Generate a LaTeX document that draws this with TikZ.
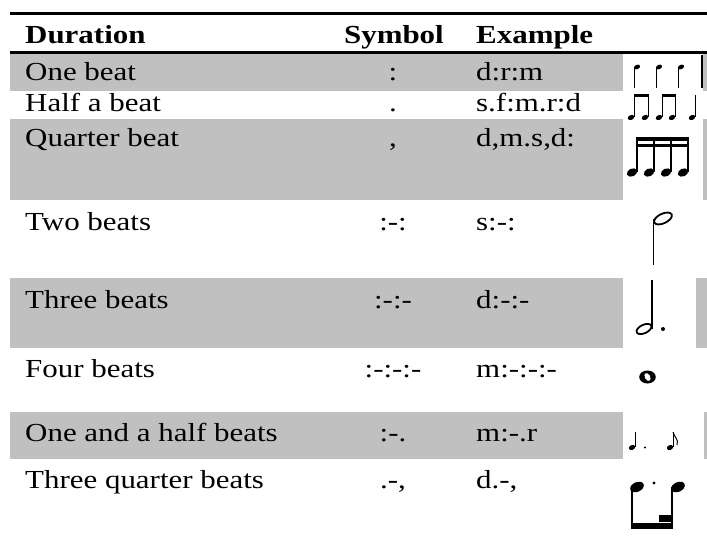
\documentclass[tikz,border=0pt]{standalone}
\usepackage{fontspec}
\setmainfont{Liberation Serif}[FakeStretch=1.19]
\definecolor{rowgray}{RGB}{192,192,192}
\begin{document}
\begin{tikzpicture}[x=1pt,y=-1pt,
  txt/.style={inner sep=0pt, font=\fontsize{26}{30}\selectfont},
  hdtxt/.style={inner sep=0pt, font=\fontsize{26}{30}\selectfont\bfseries},
  durtxt/.style={txt, anchor=base west},
  symtxt/.style={txt, anchor=base},
  extxt/.style={txt, anchor=base west},
  graybar/.style={fill=rowgray},
  notecell/.style={fill=white},
  rulethick/.style={line width=3pt},
  rulemid/.style={line width=2.5pt},
  thinstem/.style={line width=1pt},
  midstem/.style={line width=1.5pt},
  thickstem/.style={line width=2pt}
]
\useasboundingbox (0,0) rectangle (707,544);
\fill[white] (0,0) rectangle (707,544);

% shaded rows
\fill[graybar] (10,54) rectangle (707,91);
\fill[graybar] (10,119) rectangle (707,200);
\fill[graybar] (10,278) rectangle (707,348);
\fill[graybar] (10,412) rectangle (707,459);
% white note cells
\fill[notecell] (623,54) rectangle (703,91);
\fill[notecell] (623,119) rectangle (703,200);
\fill[notecell] (623,278) rectangle (696,348);
\fill[notecell] (623,412) rectangle (704,459);

% rules
\draw[rulethick] (10,13.5) -- (707,13.5);
\draw[rulemid] (10,52.5) -- (707,52.5);

% header
\node[hdtxt, anchor=base west] (hdur) at (25,43) {Duration};
\node[hdtxt, anchor=base east] (hsym) at (444,43) {Symbol};
\node[hdtxt, anchor=base west] (hex) at (476,43) {Example};

% rows
\node[durtxt] (d1) at (25,80) {One beat};
\node[symtxt] (s1) at (393,80) {:};
\node[extxt] (e1) at (476,80) {d:r:m};

\node[durtxt] (d2) at (25,111) {Half a beat};
\node[symtxt] (s2) at (393,111) {.};
\node[extxt] (e2) at (476,111) {s.f:m.r:d};

\node[durtxt] (d3) at (25,146) {Quarter beat};
\node[symtxt] (s3) at (393,146) {,};
\node[extxt] (e3) at (476,146) {d,m.s,d:};

\node[durtxt] (d4) at (25,230) {Two beats};
\node[symtxt] (s4) at (393,230) {:-:};
\node[extxt] (e4) at (476,230) {s:-:};

\node[durtxt] (d5) at (25,308) {Three beats};
\node[symtxt] (s5) at (393,308) {:-:-};
\node[extxt] (e5) at (476,308) {d:-:-};

\node[durtxt] (d6) at (25,377) {Four beats};
\node[symtxt] (s6) at (393,377) {:-:-:-};
\node[extxt] (e6) at (476,377) {m:-:-:-};

\node[durtxt] (d7) at (25,441) {One and a half beats};
\node[symtxt] (s7) at (393,441) {:-.};
\node[extxt] (e7) at (476,441) {m:-.r};

\node[durtxt] (d8) at (25,488) {Three quarter beats};
\node[symtxt] (s8) at (393,488) {.-,};
\node[extxt] (e8) at (476,488) {d.-,};

% row 1: three quarter notes, stems down
\foreach \x in {634,656,678}{
  \fill[rotate around={25:(\x+3,67)}] (\x+3,67) ellipse [x radius=3.2pt, y radius=2.2pt];
  \draw[thinstem] (\x+0.5,67) -- (\x+0.5,88);
}
\draw[line width=1.2pt] (702,55) -- (702,88);

% row 2: two beamed pairs of eighths and a quarter
\fill (633.5,94) rectangle (648.5,96.5);
\fill (661.5,94) rectangle (675.5,96.5);
\foreach \x in {634,648,662,675,695}{
  \draw[thinstem] (\x,95) -- (\x,117);
  \fill[rotate around={25:(\x-3,117.5)}] (\x-3,117.5) ellipse [x radius=3.4pt, y radius=2.4pt];
}

% row 3: four beamed sixteenths
\fill (636.25,137) rectangle (688.75,140.5);
\fill (636.25,143.5) rectangle (688.75,147);
\foreach \x in {637,654,671,688}{
  \draw[midstem] (\x,137) -- (\x,172);
  \fill[rotate around={25:(\x-5,172.5)}] (\x-5,172.5) ellipse [x radius=5.4pt, y radius=3.9pt];
}

% row 4: half note, stem down
\draw[midstem] (653.5,219) -- (653.5,265);
\draw[line width=1.8pt, rotate around={25:(663,218.5)}] (663,218.5) ellipse [x radius=9.6pt, y radius=4.8pt];

% row 5: dotted half note, stem up
\draw[midstem] (652,280) -- (652,329);
\draw[line width=1.8pt, rotate around={25:(644,329)}] (644,329) ellipse [x radius=8pt, y radius=4.2pt];
\fill (663,329) circle [radius=2pt];

% row 6: whole note
\fill (647.5,377) ellipse [x radius=8.3pt, y radius=6.5pt];
\fill[white, rotate around={30:(647.5,377)}] (647.5,377) ellipse [x radius=2.6pt, y radius=4.2pt];

% row 7: dotted quarter and eighth
\draw[thinstem] (635,432) -- (635,447);
\fill[rotate around={25:(632,447.5)}] (632,447.5) ellipse [x radius=3.3pt, y radius=2.4pt];
\fill (645,447.5) circle [radius=1.2pt];
\draw[thinstem] (673,432) -- (673,447);
\fill[rotate around={25:(670,447.5)}] (670,447.5) ellipse [x radius=3.3pt, y radius=2.4pt];
\draw[thinstem] (673,432) .. controls (674,437) and (679,439) .. (677,445);

% row 8: dotted eighth and sixteenth, stems down
\fill[rotate around={25:(637,487)}] (637,487) ellipse [x radius=7.2pt, y radius=4.8pt];
\fill[rotate around={25:(678,487)}] (678,487) ellipse [x radius=7.2pt, y radius=4.8pt];
\draw[thickstem] (631.5,487) -- (631.5,528);
\draw[thickstem] (671.5,487) -- (671.5,528);
\fill (630.5,523) rectangle (672.5,528.5);
\fill (659,515) rectangle (672.5,521.5);
\fill (654,483) circle [radius=1.6pt];
\end{tikzpicture}
\end{document}
